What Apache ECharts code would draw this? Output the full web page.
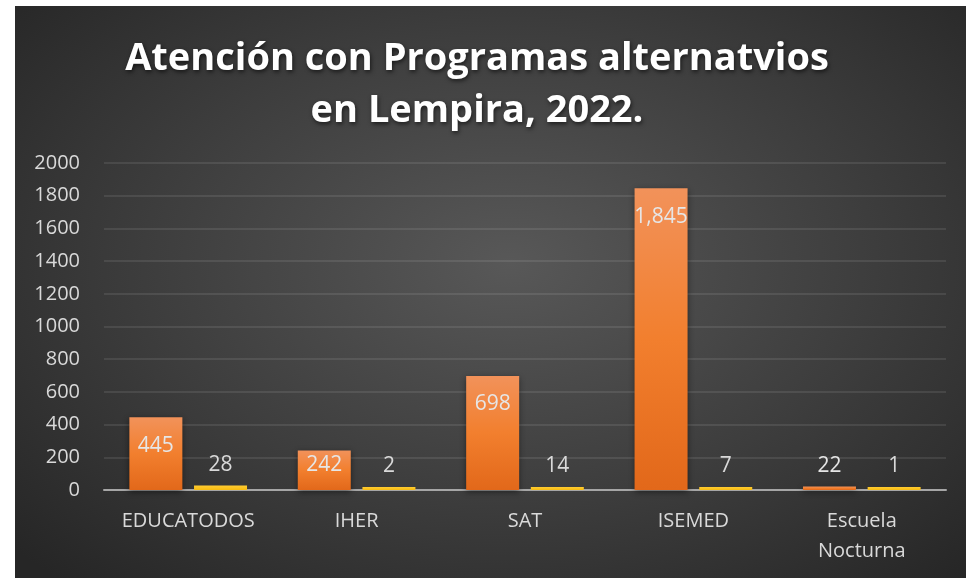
<!doctype html>
<html lang="es">
  <head>
    <meta charset="utf-8">
    <title>Atención con Programas alternatvios en Lempira, 2022.</title>
    <script src="https://cdn.jsdelivr.net/npm/echarts@6/dist/echarts.min.js"></script>
    <style>
      html, body { margin: 0; padding: 0; background: #ffffff; }
      #chart {
        position: absolute; left: 15px; top: 6px; width: 951px; height: 572px;
        background: radial-gradient(ellipse 70% 75% at 52% 45%, #585858 0%, #3d3d3d 55%, #262626 100%);
      }
    </style>
  </head>
  <body>
    <div id="chart"></div>

  <script>
    // data
    var categories = ['EDUCATODOS', 'IHER', 'SAT', 'ISEMED', 'Escuela\nNocturna'];
    var valuesOrange = [445, 242, 698, 1845, 22];
    var valuesYellow = [28, 2, 14, 7, 1];
    var yTicks = { min: 0, max: 2000, interval: 200 };

    var chart = echarts.init(document.getElementById('chart'), null, { renderer: 'canvas' });

    var labelColor = '#d9d9d9';
    var font = '"Open Sans", "DejaVu Sans", sans-serif';

    // per-bar label placement for the orange series (short bars get the label above or near top)
    var orangeData = valuesOrange.map(function (v) {
      var item = { value: v };
      if (v < 100) {
        item.label = { position: 'top', distance: 10 };
      } else if (v < 400) {
        item.label = { position: 'insideTop', distance: 4 };
      }
      return item;
    });

    var option = {
      backgroundColor: 'transparent',
      title: {
        text: 'Atención con Programas alternatvios\nen Lempira, 2022.',
        left: 457,
        top: 22,
        textAlign: 'center',
        textStyle: {
          color: '#ffffff',
          fontFamily: font,
          fontWeight: 'bold',
          fontSize: 38,
          lineHeight: 52,
          textShadowColor: 'rgba(0,0,0,0.6)',
          textShadowBlur: 4,
          textShadowOffsetX: 1,
          textShadowOffsetY: 2
        }
      },
      grid: { left: 89, right: 20, top: 157, bottom: 88, containLabel: false },
      xAxis: {
        type: 'category',
        data: categories,
        axisTick: { show: false },
        axisLine: { lineStyle: { color: '#a6a6a6', width: 2 } },
        axisLabel: {
          color: labelColor, fontFamily: font, fontSize: 20,
          lineHeight: 30, margin: 16, interval: 0
        }
      },
      yAxis: {
        type: 'value',
        min: yTicks.min, max: yTicks.max, interval: yTicks.interval,
        axisLine: { show: false },
        axisTick: { show: false },
        axisLabel: {
          color: labelColor, fontFamily: font, fontSize: 20, margin: 24,
          formatter: function (v) { return String(v); }
        },
        splitLine: { lineStyle: { color: 'rgba(255,255,255,0.12)', width: 1.5 } }
      },
      series: [
        {
          type: 'bar',
          data: orangeData,
          barWidth: 53,
          barGap: '22%',
          barMinHeight: 3,
          itemStyle: {
            color: new echarts.graphic.LinearGradient(0, 0, 0, 1, [
              { offset: 0, color: '#f2925a' },
              { offset: 0.5, color: '#f27f2e' },
              { offset: 1, color: '#e2681a' }
            ]),
            shadowColor: 'rgba(0,0,0,0.45)',
            shadowBlur: 6,
            shadowOffsetY: 2
          },
          label: {
            show: true, position: 'insideTop', distance: 18,
            color: '#e6e6e6', fontFamily: font, fontSize: 21,
            formatter: function (p) { return p.value.toLocaleString('en-US'); }
          }
        },
        {
          type: 'bar',
          data: valuesYellow,
          barWidth: 53,
          barMinHeight: 3,
          itemStyle: {
            color: new echarts.graphic.LinearGradient(0, 0, 0, 1, [
              { offset: 0, color: '#ffcc33' },
              { offset: 1, color: '#f7bb10' }
            ])
          },
          label: {
            show: true, position: 'top', distance: 10,
            color: labelColor, fontFamily: font, fontSize: 21
          }
        }
      ]
    };

    chart.setOption(option);
    window.addEventListener('resize', chart.resize);
  </script>
  </body>
</html>
